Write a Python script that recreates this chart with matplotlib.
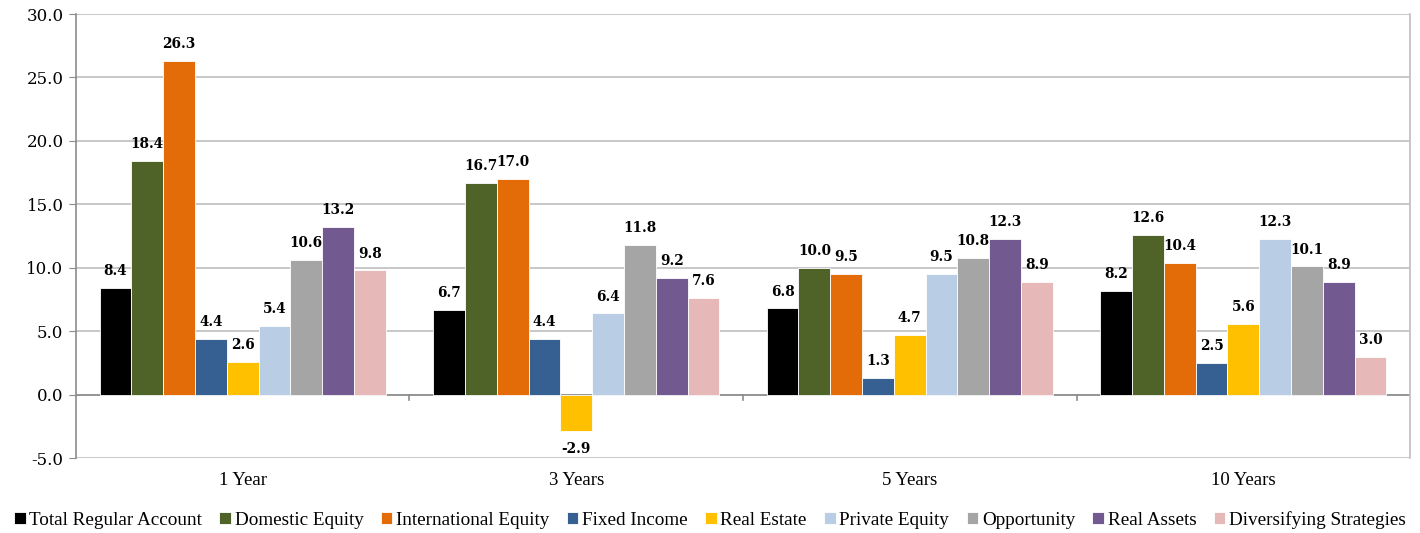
import numpy as np
from matplotlib import pyplot as plt

plt.rcParams['font.family'] = ['Liberation Serif', 'DejaVu Serif']

## DATA:
periods = ["1 Year", "3 Years", "5 Years", "10 Years"]
series = ["Total Regular Account", "Domestic Equity", "International Equity", "Fixed Income",
          "Real Estate", "Private Equity", "Opportunity", "Real Assets", "Diversifying Strategies"]
total_regular   = [8.4, 6.7, 6.8, 8.2]
domestic_eq     = [18.4, 16.7, 10.0, 12.6]
international   = [26.3, 17.0, 9.5, 10.4]
fixed_income    = [4.4, 4.4, 1.3, 2.5]
real_estate     = [2.6, -2.9, 4.7, 5.6]
private_eq      = [5.4, 6.4, 9.5, 12.3]
opportunity     = [10.6, 11.8, 10.8, 10.1]
real_assets     = [13.2, 9.2, 12.3, 8.9]
diversifying    = [9.8, 7.6, 8.9, 3.0]
yticks = [-5, 0, 5, 10, 15, 20, 25, 30]
## END DATA

values = [total_regular, domestic_eq, international, fixed_income, real_estate,
          private_eq, opportunity, real_assets, diversifying]
colors = ["#000000", "#4F6228", "#E36C09", "#366092", "#FFC000",
          "#B9CDE5", "#A5A5A5", "#725990", "#E6B9B8"]

fig = plt.figure(figsize=(14.2, 5.33), dpi=100)
ax = fig.add_axes([0.0535, 0.1407, 0.9395, 0.833])

n = len(series)
group_w = 0.858
bw = group_w / n
x = np.arange(len(periods))

handles = []
for i, (vals, c) in enumerate(zip(values, colors)):
    pos = x - group_w / 2 + bw * (i + 0.5)
    b = ax.bar(pos, vals, bw, color=c, edgecolor="white", linewidth=0.6, zorder=3, label=series[i])
    handles.append(b)
    for p, v in zip(pos, vals):
        off = 7 if v >= 0 else -8
        ax.annotate("%.1f" % v, (p, v), xytext=(0, off), textcoords="offset points",
                    ha="center", va="bottom" if v >= 0 else "top",
                    fontsize=9.8, fontweight="bold", family="DejaVu Serif", zorder=4)

ax.set_xlim(-0.5, len(periods) - 0.5)
ax.set_ylim(yticks[0], yticks[-1])
ax.set_yticks(yticks)
ax.set_yticklabels(["%.1f" % t for t in yticks], fontsize=12, family="DejaVu Serif")
ax.yaxis.grid(True, color="#BFBFBF", linewidth=1.2, zorder=0)
ax.tick_params(axis="y", length=5, color="#8C8C8C", pad=4)

ax.set_xticks(x)
ax.set_xticklabels(periods, fontsize=13.5)
ax.tick_params(axis="x", length=0, pad=10)

ax.axhline(0, color="#8C8C8C", linewidth=1.2, zorder=2)
for s in np.arange(0.5, len(periods) - 1, 1.0):
    ax.plot([s, s], [0, -0.45], color="#8C8C8C", linewidth=1.2, zorder=2, clip_on=False)

for sp in ["left", "right"]:
    ax.spines[sp].set_color("#8C8C8C")
    ax.spines[sp].set_linewidth(1.2)
ax.spines["right"].set_color("#BFBFBF")
for sp in ["top", "bottom"]:
    ax.spines[sp].set_visible(False)

fig.legend(handles=handles, labels=series, loc="lower center", bbox_to_anchor=(0.5, -0.024),
           ncol=n, frameon=False, fontsize=13.8, handlelength=0.6, handleheight=0.6,
           handletextpad=0.2, columnspacing=0.9)

fig.savefig("out.png", dpi=100)
